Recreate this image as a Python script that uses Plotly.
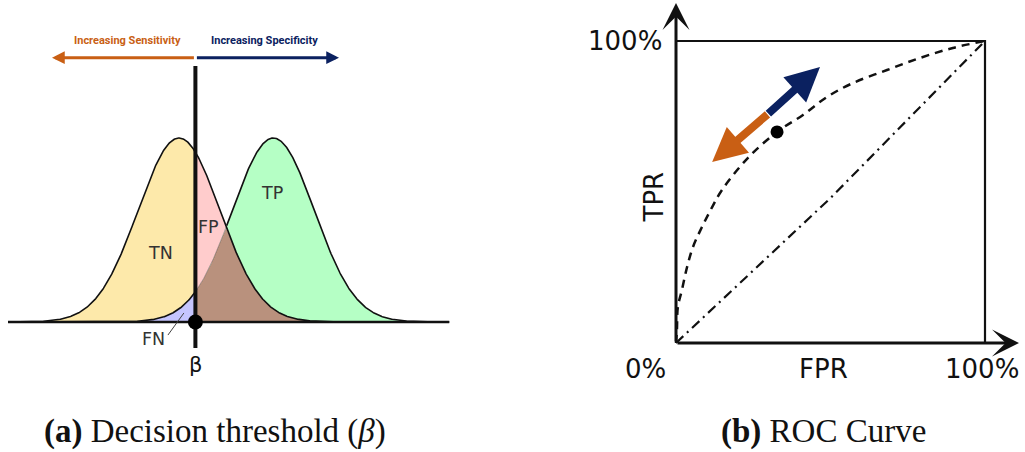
import numpy as np
import plotly.graph_objects as go

# ---------------- data ----------------
# (a) class-score distributions and decision threshold (score units, peak height = 1)
neg_mean = 0.0
pos_mean = 2.3
sigma = 1.0
threshold = 0.4
score_min, score_max = -4.17, 6.59

region_labels = ["TN", "FP", "TP", "FN"]
region_label_x = [-0.44, 0.73, 2.27, -0.63]
region_label_y = [0.375, 0.516, 0.70, -0.092]

# (b) ROC curve
roc_fpr = [0, 0.003, 0.006, 0.019, 0.036, 0.055, 0.084, 0.117, 0.149, 0.23,
           0.327, 0.411, 0.489, 0.573, 0.683, 0.79, 0.896, 1.0]
roc_tpr = [0, 0.043, 0.119, 0.175, 0.252, 0.318, 0.384, 0.450, 0.507, 0.61,
           0.699, 0.755, 0.815, 0.861, 0.904, 0.944, 0.977, 1.0]
operating_idx = 10
chance_fpr = [0, 0.5, 1.0]
chance_tpr = [0, 0.48, 1.0]
roc_tick_labels = ["0%", "100%", "100%"]

# ---------------- colours / styles ----------------
C_TN = "#FDE9AA"
C_FP = "#FFCCCC"
C_TP = "#B5FFC5"
C_FN = "#C5C5FF"
C_OV = "#B9917D"
C_ORANGE = "#C95F14"
C_BLUE = "#0B2160"
INK = "#111111"

W, H = 1025, 452
# pixel geometry of the two panels
L_X0, L_XS, L_Y0, L_YS = 179.0, 41.0, 322.0, 184.0   # left: px = X0 + XS*s ; py = Y0 - YS*v
R_X0, R_XS, R_Y0, R_YS = 676.0, 309.0, 343.0, 302.0  # right: px = X0 + XS*f ; py = Y0 - YS*t


def gauss(x, m):
    return np.exp(-((x - m) ** 2) / (2 * sigma ** 2))


xl = np.linspace(score_min, threshold, 300)
xr = np.linspace(threshold, score_max, 500)
xa = np.linspace(score_min, score_max, 800)
nl, pl = gauss(xl, neg_mean), gauss(xl, pos_mean)
nr, pr = gauss(xr, neg_mean), gauss(xr, pos_mean)
mr = np.minimum(nr, pr)

fig = go.Figure()


def poly(x, top, bottom, color):
    fig.add_trace(go.Scatter(
        x=np.concatenate([x, x[::-1]]), y=np.concatenate([top, bottom[::-1]]),
        fill="toself", fillcolor=color, mode="lines", line=dict(width=0),
        hoverinfo="skip", xaxis="x", yaxis="y"))


poly(xl, nl, pl, C_TN)
poly(xl, pl, np.zeros_like(xl), C_FN)
poly(xr, mr, np.zeros_like(xr), C_OV)
poly(xr, nr, mr, C_FP)
poly(xr, pr, mr, C_TP)


def line(x, y, color=INK, width=1.6, ax="x", ay="y", dash=None, shape="linear"):
    fig.add_trace(go.Scatter(x=x, y=y, mode="lines",
                             line=dict(color=color, width=width, dash=dash, shape=shape),
                             hoverinfo="skip", xaxis=ax, yaxis=ay))


cross = (neg_mean + pos_mean) / 2
line(xa, gauss(xa, neg_mean))
m1 = xa <= threshold
m2 = (xa >= threshold) & (xa <= cross)
m3 = xa >= cross
line(xa[m1], gauss(xa[m1], pos_mean))
line(xa[m2], gauss(xa[m2], pos_mean), color="rgba(0,0,0,0.3)", width=1)
line(xa[m3], gauss(xa[m3], pos_mean))
# baseline and threshold
line([score_min, score_max], [0, 0], width=2.6)
line([threshold, threshold], [(L_Y0 - 348) / L_YS, (L_Y0 - 66) / L_YS], width=4)
# FN leader line
line([-0.27, 0.12], [-0.071, 0.049], color="#444444", width=1)
fig.add_trace(go.Scatter(x=[threshold], y=[0], mode="markers",
                         marker=dict(size=15, color="black"), hoverinfo="skip",
                         xaxis="x", yaxis="y"))

# ---- ROC panel ----
line([0, 1, 1], [1, 1, 0], width=2.2, ax="x2", ay="y2")
line(chance_fpr, chance_tpr, width=2.2, ax="x2", ay="y2", dash="10px,5px,2px,5px")
line(roc_fpr, roc_tpr, width=2.5, ax="x2", ay="y2", dash="8px,6px", shape="spline")
fig.add_trace(go.Scatter(x=[roc_fpr[operating_idx]], y=[roc_tpr[operating_idx]],
                         mode="markers", marker=dict(size=13, color="black"),
                         hoverinfo="skip", xaxis="x2", yaxis="y2"))

annotations = []


def arrow(xr_, yr_, x0, y0, x1, y1, color, width, head, size):
    annotations.append(dict(xref=xr_, yref=yr_, axref=xr_, ayref=yr_,
                            x=x1, y=y1, ax=x0, ay=y0, text="", showarrow=True,
                            arrowhead=head, arrowsize=size, arrowwidth=width,
                            arrowcolor=color, standoff=0, startstandoff=0))


# top arrows in panel (a)
arrow_y = (L_Y0 - 57.7) / L_YS
arrow("x", "y", threshold, arrow_y, (52 - L_X0) / L_XS, arrow_y, C_ORANGE, 3, 2, 0.85)
arrow("x", "y", threshold, arrow_y, (339 - L_X0) / L_XS, arrow_y, C_BLUE, 3, 2, 0.85)

# ROC axes arrows
arrow("x2", "y2", 0, 0, 0, (R_Y0 - 3) / R_YS, INK, 3, 3, 1.5)
arrow("x2", "y2", 0, 0, (1019 - R_X0) / R_XS, 0, INK, 3, 3, 1.5)

# ROC double arrow (orange drawn first, starting slightly past the join)
mid = (0.294, 0.755)
blue_tip = (0.466, 0.914)
orange_tip = (0.117, 0.599)
ext = 0.04
o_start = (mid[0] + ext * (blue_tip[0] - mid[0]), mid[1] + ext * (blue_tip[1] - mid[1]))
arrow("x2", "y2", o_start[0], o_start[1], orange_tip[0], orange_tip[1], C_ORANGE, 8, 2, 0.85)
arrow("x2", "y2", mid[0], mid[1], blue_tip[0], blue_tip[1], C_BLUE, 8, 2, 0.85)

# texts in panel (a)
for t, x, y in zip(region_labels, region_label_x, region_label_y):
    annotations.append(dict(xref="x", yref="y", x=x, y=y, text=t, showarrow=False,
                            font=dict(family="DejaVu Sans", size=17.5, color="#333333")))
annotations.append(dict(xref="x", yref="y", x=threshold, y=(L_Y0 - 365) / L_YS, text="β",
                        showarrow=False, font=dict(family="DejaVu Sans", size=21, color=INK)))
head_font = "Roboto"
annotations.append(dict(xref="x", yref="y", x=(127 - L_X0) / L_XS, y=(L_Y0 - 40) / L_YS,
                        text="<b>Increasing Sensitivity</b>", showarrow=False,
                        font=dict(family=head_font, size=11, color=C_ORANGE)))
annotations.append(dict(xref="x", yref="y", x=(264 - L_X0) / L_XS, y=(L_Y0 - 40) / L_YS,
                        text="<b>Increasing Specificity</b>", showarrow=False,
                        font=dict(family=head_font, size=11, color=C_BLUE)))

# texts in panel (b)
roc_font = dict(family="DejaVu Sans", size=26, color=INK)
tick_pos = [((645 - R_X0) / R_XS, (R_Y0 - 369) / R_YS),
            ((624.5 - R_X0) / R_XS, 1.0),
            ((981.5 - R_X0) / R_XS, (R_Y0 - 369) / R_YS)]
for t, (x, y) in zip(roc_tick_labels, tick_pos):
    annotations.append(dict(xref="x2", yref="y2", x=x, y=y, text=t, showarrow=False, font=roc_font))
annotations.append(dict(xref="x2", yref="y2", x=(823 - R_X0) / R_XS, y=(R_Y0 - 369) / R_YS,
                        text="FPR", showarrow=False, font=roc_font))
annotations.append(dict(xref="x2", yref="y2", x=(653 - R_X0) / R_XS, y=(R_Y0 - 197.5) / R_YS,
                        text="TPR", showarrow=False, textangle=-90, font=roc_font))

# captions
cap_font = dict(family="Liberation Serif, DejaVu Serif, serif", size=33, color=INK)
annotations.append(dict(xref="paper", yref="paper", x=214.5 / W, y=(H - 431) / H,
                        xanchor="center", yanchor="middle",
                        text="<b>(a)</b> Decision threshold (<i>β</i>)", showarrow=False,
                        font=cap_font))
annotations.append(dict(xref="paper", yref="paper", x=823.5 / W, y=(H - 431) / H,
                        xanchor="center", yanchor="middle",
                        text="<b>(b)</b> ROC Curve", showarrow=False, font=cap_font))

ax_common = dict(visible=False, showgrid=False, zeroline=False, fixedrange=True)
fig.update_layout(
    width=W, height=H, margin=dict(l=0, r=0, t=0, b=0),
    paper_bgcolor="white", plot_bgcolor="white", showlegend=False,
    xaxis=dict(domain=[0, 0.5], range=[-L_X0 / L_XS, (W / 2 - L_X0) / L_XS], **ax_common),
    yaxis=dict(domain=[0, 1], range=[(L_Y0 - H) / L_YS, L_Y0 / L_YS], **ax_common),
    xaxis2=dict(domain=[0.5, 1], anchor="y2", range=[(W / 2 - R_X0) / R_XS, (W - R_X0) / R_XS], **ax_common),
    yaxis2=dict(domain=[0, 1], anchor="x2", range=[(R_Y0 - H) / R_YS, R_Y0 / R_YS], **ax_common),
    annotations=annotations,
)

fig.write_html("out.html", config={"displayModeBar": False})
